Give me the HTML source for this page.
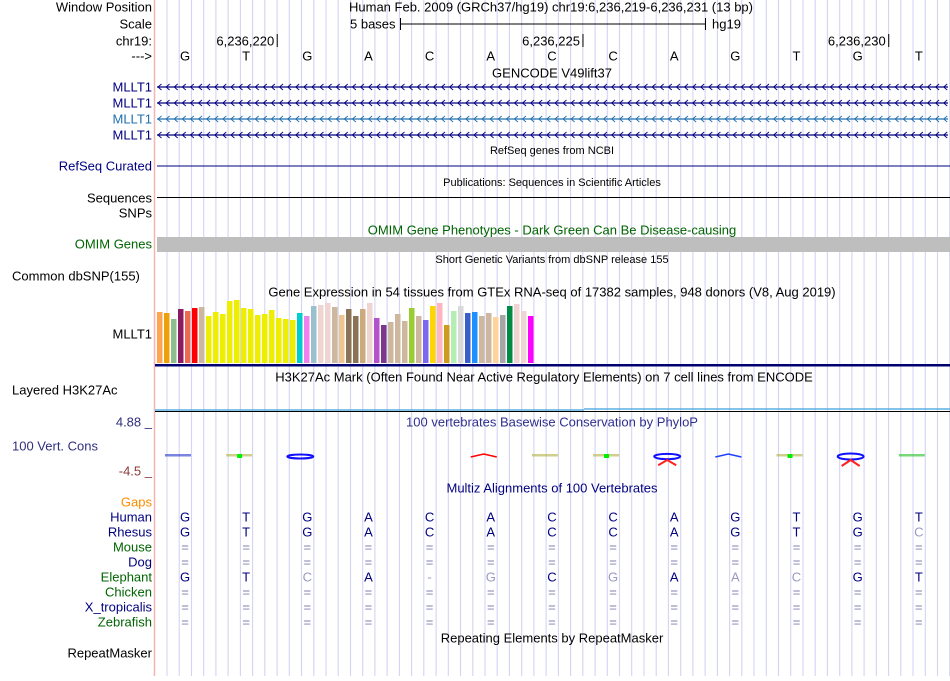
<!DOCTYPE html>
<html><head><meta charset="utf-8"><style>
html,body{margin:0;padding:0;background:#fff;}
body{width:950px;height:676px;overflow:hidden;font-family:"Liberation Sans",sans-serif;}
svg text{font-family:"Liberation Sans",sans-serif;}
</style></head><body>
<svg id="main" width="950" height="676" xmlns="http://www.w3.org/2000/svg"></svg>
<script>
const bases=["G","T","G","A","C","A","C","C","A","G","T","G","T"];
const rhesus=["G","T","G","A","C","A","C","C","A","G","T","G","C"];
const rhesusGrey=[0,0,0,0,0,0,0,0,0,0,0,0,1];
const elephant=["G","T","C","A","-","G","C","G","A","A","C","G","T"];
const elephantGrey=[0,0,1,0,1,1,0,1,0,1,1,0,0];
const gtexValues=[51,50,44,54,52,55,56,47,51,49,62,63,55,54,48,49,53,45,44,43,50,47,57,58,60,56,48,54,47,54,60,45,38,41,49,42,55,47,43,57,60,38,52,57,50,51,47,50,46,48,57,59,52,47];
const gtexColors=["#ffa54f","#eea00a","#8fbc8f","#8b1c62","#ee6a50","#ff0000","#cdb79e","#eeee00","#eeee00","#eeee00","#eeee00","#eeee00","#eeee00","#eeee00","#eeee00","#eeee00","#eeee00","#eeee00","#eeee00","#eeee00","#00cdcd","#ee82ee","#9ac0cd","#eed5d2","#eed5d2","#cdb79e","#eec591","#8b7355","#8b7355","#cdaa7d","#eed5d2","#b452cd","#7a378b","#cdb79e","#cdb79e","#cdb79e","#9acd32","#cdb79e","#7b68ee","#ffd700","#ffb6c1","#cd9b1d","#b4eeb4","#d9d9d9","#3a5fcd","#1e90ff","#cdb79e","#cdb79e","#ffd39b","#a6a6a6","#008b45","#eed5d2","#eed5d2","#ff00ff"];
const posTicks=["6,236,220","6,236,225","6,236,230"];
const posTickBase=[1.5,6.5,11.5];
const species=["Human","Rhesus","Mouse","Dog","Elephant","Chicken","X_tropicalis","Zebrafish"];
const speciesColors=["#000080","#000080","#006400","#000080","#006400","#006400","#000080","#006400"];

const svg=document.getElementById('main');
const NS="http://www.w3.org/2000/svg";
function el(tag,attrs,parent){const e=document.createElementNS(NS,tag);for(const k in attrs)e.setAttribute(k,attrs[k]);(parent||svg).appendChild(e);return e;}
function txt(x,y,s,opt,name){const t=el('text',Object.assign({x:x,y:y,'font-size':13,fill:'#000','dominant-baseline':'central'},opt||{}));t.textContent=s;

return t;}
const BW=61.15;
function bx(i){return 185+BW*i;}

const grid=el('g',{});


for(let x=167;x<950;x+=12.23){el('line',{x1:x.toFixed(1),x2:x.toFixed(1),y1:0,y2:676,stroke:'#d4d4f2','stroke-width':1.1},grid);}
el('line',{x1:154.5,x2:154.5,y1:0,y2:676,stroke:'#f4b4b4','stroke-width':1.5});

const L=[["Window Position",7,"#000"],["Scale",24,"#000"],["chr19:",41,"#000"],["--->",56,"#000"],
["MLLT1",87,"#000080"],["MLLT1",103,"#000080"],["MLLT1",119,"#2070b0"],["MLLT1",135,"#000080"],
["RefSeq Curated",166,"#000080"],["Sequences",198,"#000"],["SNPs",213,"#000"],["OMIM Genes",244,"#006400"],
["MLLT1",334,"#000"],["4.88 _",422,"#2f2f7f"],
["-4.5 _",471,"#8b3a3a"],["Gaps",502,"#ff8c00"],["RepeatMasker",653,"#000"]];
L.forEach(l=>txt(152,l[1],l[0],{'text-anchor':'end',fill:l[2]},'track-label'));
txt(12,276,"Common dbSNP(155)",{},'track-label');
txt(12,390,"Layered H3K27Ac",{},'track-label');
txt(12,446,"100 Vert. Cons",{fill:'#2f2f7f'},'track-label');
species.forEach((s,i)=>txt(152,517+15*i,s,{'text-anchor':'end',fill:speciesColors[i]},'species-label'));

txt(349,7,"Human Feb. 2009 (GRCh37/hg19)   chr19:6,236,219-6,236,231 (13 bp)",{'xml:space':'preserve'},'window-position');
txt(350,24,"5 bases",{},'scale-label');
el('line',{x1:400,x2:706,y1:24,y2:24,stroke:'#000'});
el('line',{x1:400.5,x2:400.5,y1:18,y2:30,stroke:'#000'});
el('line',{x1:705.5,x2:705.5,y1:18,y2:30,stroke:'#000'});
txt(712,24,"hg19",{},'scale-assembly');
posTicks.forEach((p,i)=>{const x=bx(posTickBase[i])+0.5;txt(x-3,41,p,{'text-anchor':'end'},'position-tick');el('line',{x1:x,x2:x,y1:34,y2:47,stroke:'#000'});});
bases.forEach((b,i)=>txt(bx(i),56,b,{'text-anchor':'middle'},'base-letter'));

txt(552,73,"GENCODE V49lift37",{'text-anchor':'middle'},'track-title');
[[87,"#000080"],[103,"#000080"],[119,"#2070b0"],[135,"#000080"]].forEach(r=>{
  const g=el('g',{});
  
  
  el('line',{x1:157,x2:948,y1:r[0],y2:r[0],stroke:r[1],'stroke-width':1.2},g);
  let d='';for(let x=158;x<946;x+=8.1)d+=`M${x+3.5},${r[0]-3}L${x},${r[0]}L${x+3.5},${r[0]+3}`;
  el('path',{d:d,stroke:r[1],fill:'none','stroke-width':0.9},g);
});
txt(552,151,"RefSeq genes from NCBI",{'text-anchor':'middle','font-size':11},'track-title');
el('line',{x1:157,x2:950,y1:166,y2:166,stroke:'#000080'});
txt(552,183,"Publications: Sequences in Scientific Articles",{'text-anchor':'middle','font-size':11},'track-title');
el('line',{x1:157,x2:950,y1:197.5,y2:197.5,stroke:'#000'});
txt(552,230,"OMIM Gene Phenotypes - Dark Green Can Be Disease-causing",{'text-anchor':'middle',fill:'#006400'},'track-title');
const om=el('rect',{x:157,y:237,width:793,height:15,fill:'#bebebe'});

txt(552,260,"Short Genetic Variants from dbSNP release 155",{'text-anchor':'middle','font-size':11},'track-title');

txt(552,292,"Gene Expression in 54 tissues from GTEx RNA-seq of 17382 samples, 948 donors (V8, Aug 2019)",{'text-anchor':'middle'},'track-title');
const base=363,scale=1;
gtexValues.forEach((v,i)=>{const h=v*scale;const r=el('rect',{x:157+7*i,y:base-h,width:5.5,height:h,fill:gtexColors[i]});
});
el('rect',{x:155,y:364,width:795,height:2.5,fill:'#000070'});
txt(544,377,"H3K27Ac Mark (Often Found Near Active Regulatory Elements) on 7 cell lines from ENCODE",{'text-anchor':'middle'},'track-title');
el('line',{x1:155,x2:584,y1:410,y2:410,stroke:'#5ab0e0','stroke-width':1.5});
el('line',{x1:584,x2:950,y1:409,y2:409,stroke:'#5ab0e0','stroke-width':1.5});
el('line',{x1:155,x2:950,y1:411.5,y2:411.5,stroke:'#000','stroke-width':1});

txt(552,422,"100 vertebrates Basewise Conservation by PhyloP",{'text-anchor':'middle',fill:'#2f2f8f'},'track-title');
const logo=[["#2233cc",0.3,"line"],["#b0b040",0.3,"green"],["#1010ff",0.5,"G"],null,null,["#ff0000",0.4,"A"],["#b0b040",0.3,"line"],["#b0b040",0.3,"green"],["#1010ff",0.8,"G"],["#2040ff",0.6,"A"],["#b0b040",0.7,"green"],["#1010ff",1.0,"G"],["#20c020",0.2,"line"]];
logo.forEach((l,i)=>{if(!l)return;const g=el('g',{});
  
  const cx=bx(i)-7;
  if(l[2]=="G"){el('ellipse',{cx:cx,cy:456.5,rx:13,ry:1+l[1]*2,fill:'none',stroke:l[0],'stroke-width':2},g);
    if(l[1]>0.7)el('path',{d:`M${cx-9},${462+l[1]*4}L${cx},${460}L${cx+9},${462+l[1]*4}`,stroke:'#ff2020','stroke-width':2,fill:'none'},g);}
  else if(l[2]=="A"){el('path',{d:`M${cx-13},${457}L${cx},${454}L${cx+13},${457}`,stroke:l[0],fill:'none','stroke-width':1.5},g);}
  else{el('rect',{x:cx-13,y:454,width:26,height:2.5,fill:l[0],opacity:0.6},g);
    if(l[2]=="green")el('rect',{x:cx-2,y:454,width:5,height:4,fill:'#00ee00'},g);}
});

txt(552,488,"Multiz Alignments of 100 Vertebrates",{'text-anchor':'middle',fill:'#000080'},'track-title');
species.forEach((s,r)=>{const y=517+15*r;
  bases.forEach((b,i)=>{let ch='=',col='#7f7fb0';
    if(r==0){ch=b;col='#000080';}
    else if(r==1){ch=rhesus[i];col=rhesusGrey[i]?'#9a9ac0':'#000080';}
    else if(r==4){ch=elephant[i];col=elephantGrey[i]?'#9a9ac0':'#000080';}
    txt(bx(i),y,ch,{'text-anchor':'middle',fill:col},'alignment-base');});
});
txt(552,638,"Repeating Elements by RepeatMasker",{'text-anchor':'middle'},'track-title');
</script>
</body></html>
